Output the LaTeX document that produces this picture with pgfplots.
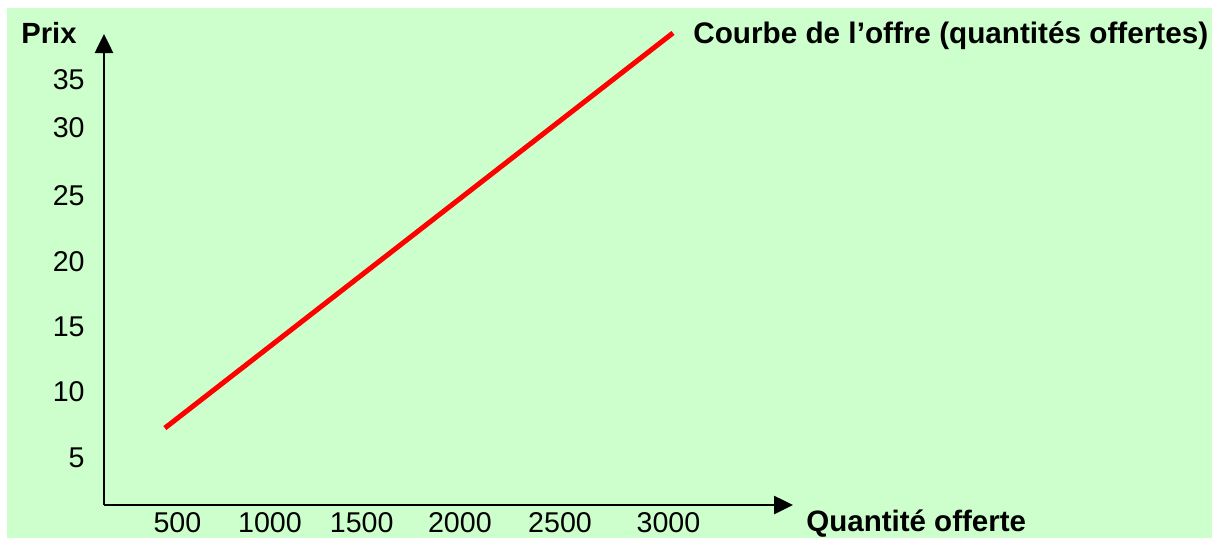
\documentclass[border=0pt]{standalone}
\usepackage{pgfplots}
\pgfplotsset{compat=1.18}
\usepackage{fontspec}
\setmainfont{Liberation Sans}
\usetikzlibrary{arrows.meta}
\definecolor{bggreen}{HTML}{CCFFCC}
\begin{document}
\begin{tikzpicture}
\fill[white] (-52pt,-16.5pt) rectangle (554pt,252.5pt);
\fill[bggreen] (-48.25pt,-16.5pt) rectangle (554pt,248.75pt);
\begin{axis}[
  at={(0,0)}, anchor=south west,
  scale only axis,
  width=344.5pt, height=235.5pt,
  xmin=126, xmax=3634,
  ymin=1.40, ymax=37.08,
  axis x line=bottom, axis y line=left,
  axis line style={line width=1.3pt, -{Triangle[length=9.5pt,width=9pt]}},
  major tick length=0pt,
  xtick={500,971,1438,1938,2448,3000},
  xticklabels={500,1000,1500,2000,2500,3000},
  ytick={5.0,9.98,14.91,19.83,24.85,29.96,33.6},
  yticklabels={5,10,15,20,25,30,35},
  xticklabel style={anchor=north, inner sep=0pt, yshift=-3.35pt, font=\fontsize{14.3}{17}\selectfont},
  yticklabel style={anchor=east, inner sep=0pt, xshift=-9.5pt, font=\fontsize{14.3}{17}\selectfont},
  clip=false,
]
\addplot[color=red, line width=2.5pt] coordinates {(436,7.23) (3023,37.16)};
\end{axis}
\node[anchor=base west, inner sep=0pt, font=\fontsize{14.6}{17}\selectfont\bfseries] at (-41.5pt,231pt) {Prix};
\node[anchor=base west, inner sep=0pt, font=\fontsize{14.85}{17}\selectfont\bfseries] at (294.5pt,231pt) {Courbe de l’offre (quantités offertes)};
\node[anchor=base west, inner sep=0pt, font=\fontsize{14.75}{17}\selectfont\bfseries] at (351pt,-13pt) {Quantité offerte};
\pgfresetboundingbox
\path (-52pt,-16.5pt) rectangle (554pt,252.5pt);
\end{tikzpicture}
\end{document}
